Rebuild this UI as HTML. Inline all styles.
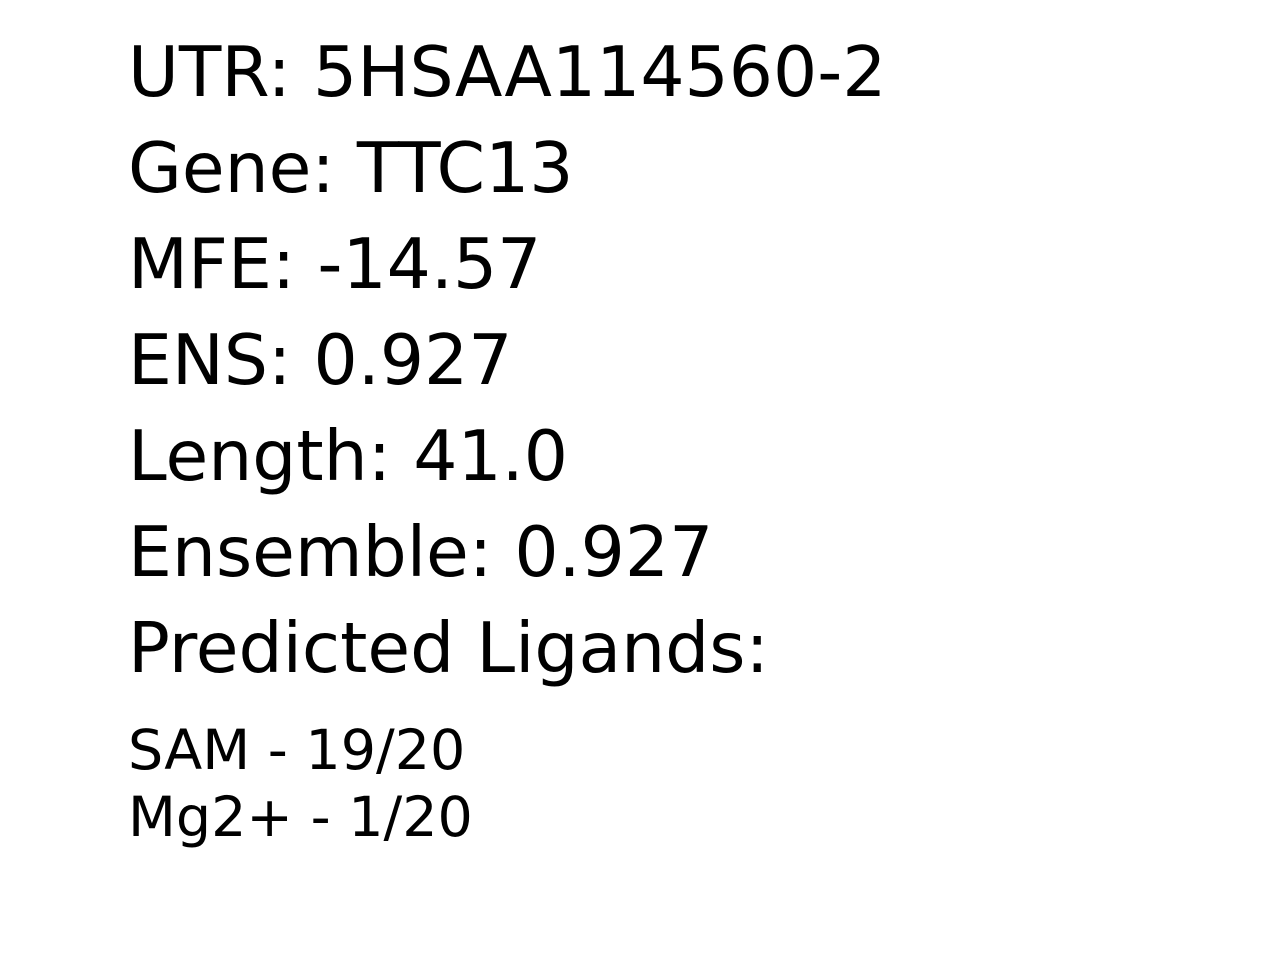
<!DOCTYPE html>
<html>
<head>
<meta charset="utf-8">
<style>
  html, body { margin: 0; padding: 0; background: #fff; }
  svg { display: block; }
  text { font-family: "DejaVu Sans", "Liberation Sans", sans-serif; fill: #000; }
</style>
</head>
<body>
<svg width="1280" height="960" viewBox="0 0 1280 960">
  <rect width="1280" height="960" fill="#fff"/>
  <text x="128" y="96" font-size="69.5">UTR: 5HSAA114560-2</text>
  <text x="128" y="192" font-size="69.5">Gene: TTC13</text>
  <text x="128" y="288" font-size="69.5">MFE: -14.57</text>
  <text x="128" y="384" font-size="69.5">ENS: 0.927</text>
  <text x="128" y="480" font-size="69.5">Length: 41.0</text>
  <text x="128" y="576" font-size="69.5">Ensemble: 0.927</text>
  <text x="128" y="672" font-size="69.5">Predicted Ligands:</text>
  <text x="128" y="769" font-size="55.5">SAM - 19/20</text>
  <text x="128" y="836" font-size="55.5">Mg2+ - 1/20</text>
</svg>
</body>
</html>
